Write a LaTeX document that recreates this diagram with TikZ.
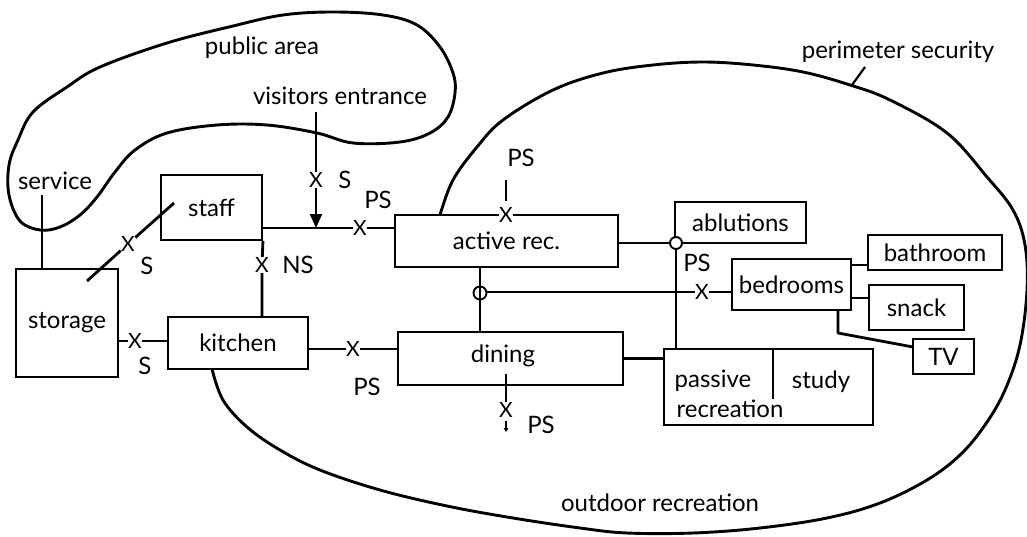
\documentclass[tikz,border=0pt]{standalone}
\usepackage{fontspec}
\setmainfont{Lato}
\usetikzlibrary{arrows.meta}
\begin{document}
\begin{tikzpicture}[x=1pt,y=-1pt,
  room/.style={draw, line width=1.9pt, inner sep=0pt, font=\fontsize{24}{28}\selectfont},
  lbl/.style={inner sep=0pt, font=\fontsize{24}{28}\selectfont},
  xm/.style={inner sep=0.3pt, fill=white, font=\fontsize{21}{21}\selectfont},
  conn/.style={line width=2.8pt},
  blob/.style={line width=2.9pt, line join=round}]
\useasboundingbox (0,0) rectangle (1027,536);

% zone outlines
\draw[blob] plot[smooth cycle, tension=0.6] coordinates {
 (40,230) (20,221) (9,195) (9,165) (18,140) (33,112) (67,87) (100,67)
 (167,43) (233,26) (283,15) (333,12) (383,15) (417,25) (440,47) (453,73)
 (455,93) (448,117) (430,133) (400,142) (353,143) (317,133) (267,125)
 (217,125) (167,133) (135,150) (115,172) (97,197) (80,215) (60,227)};

\draw[blob] plot[smooth, tension=0.6] coordinates {
 (440,215) (453,180) (477,147) (503,120) (553,90) (603,73) (653,65)
 (703,62) (753,65) (803,72) (850,85) (890,100) (947,133) (987,177)
 (1013,210) (1025,245) (1027,290) (1020,345) (1005,390) (985,425)
 (960,455) (927,480) (880,503) (827,518) (760,528) (693,533) (627,533)
 (580,528) (513,518) (447,506) (380,490) (320,470) (280,450) (247,427)
 (223,400) (212,369)};

% rooms
\node[room, minimum width=101pt, minimum height=65pt] (staff) at (211.5,207.5) {staff};
\node[room, minimum width=102pt, minimum height=108pt] (storage) at (67,323) {storage};
\node[room, minimum width=140pt, minimum height=52pt] (kitchen) at (238,343) {kitchen};
\node[room, minimum width=223pt, minimum height=52pt] (act) at (506.5,241) {active rec.};
\node[room, minimum width=225pt, minimum height=53pt] (dining) at (510.5,358.5) {};
\node[room, minimum width=209pt, minimum height=76pt] (pass) at (768.5,387) {};
\node[room, minimum width=131pt, minimum height=41pt] (abl) at (740.5,222.5) {ablutions};
\node[room, minimum width=119pt, minimum height=51pt] (bed) at (791.5,284.5) {bedrooms};
\node[room, minimum width=134pt, minimum height=35pt] (bath) at (935,252.5) {bathroom};
\node[room, minimum width=95pt, minimum height=45pt] (snack) at (916.5,307.5) {snack};
\node[room, minimum width=61pt, minimum height=35pt] (tv) at (943.5,356.5) {TV};

\node[lbl] (dintext) at (503,356) {dining};
\node[lbl] (passive) at (713,381) {passive};
\node[lbl] (recr) at (730,409) {recreation};
\node[lbl] (study) at (821,382) {study};
\coordinate (dv1) at (773,349);
\coordinate (dv2) at (773,399);
\draw[line width=1.6pt] (dv1) -- (dv2);

% labels
\node[lbl] (public) at (262,48) {public area};
\node[lbl] (visit) at (340,96) {visitors entrance};
\node[lbl] (perim) at (898,52) {perimeter security};
\node[lbl] (service) at (55,181) {service};
\node[lbl] (outdoor) at (660,503) {outdoor recreation};

% staff - active rec, with visitors entrance
\node[xm] (x1) at (360,228) {X};
\node[lbl] (l1) at (378,200) {PS};
\draw[conn] (staff.east |- x1) -- (x1) -- (act.west |- x1);
\coordinate (ve) at (316,112);
\coordinate (j1) at (316,228);
\node[xm] (x2) at (316,180) {X};
\node[lbl] (l2) at (345,180) {S};
\draw[line width=2pt] (ve) -- (x2);
\draw[line width=2pt, -{Triangle[length=14pt,width=12pt]}] (x2) -- (j1);

% staff - kitchen
\node[xm] (x3) at (262,265) {X};
\node[lbl] (l3) at (298,265) {NS};
\draw[conn] (staff.south east) -- (x3) -- (x3 |- kitchen.north);

% storage - staff diagonal
\coordinate (d1) at (87,281);
\coordinate (d2) at (174,203);
\node[xm] (x4) at (128,244) {X};
\node[lbl] (l4) at (147,266) {S};
\draw[conn] (d1) -- (x4) -- (d2);

% service
\coordinate (sv) at (42,195);
\draw[conn] (sv) -- (sv |- storage.north);

% storage - kitchen
\node[xm] (x5) at (135,341) {X};
\node[lbl] (l5) at (145,366) {S};
\draw[conn] (storage.east |- x5) -- (x5) -- (kitchen.west |- x5);

% kitchen - dining
\node[xm] (x6) at (353,349) {X};
\node[lbl] (l6) at (367,387) {PS};
\draw[conn] (kitchen.east |- x6) -- (x6) -- (dining.west |- x6);

% active rec top
\node[xm] (x7) at (506,215) {X};
\node[lbl] (l7) at (521,158) {PS};
\coordinate (t1) at (506,180);
\coordinate (t2) at (506,201);
\draw[conn] (t1) -- (t2);

% active rec - circle - passive
\node[circle, draw, fill=white, line width=1.9pt, minimum size=12pt, inner sep=0pt] (c1) at (676,243) {};
\draw[conn] (act.east |- c1) -- (c1);
\draw[conn] (c1) -- (c1 |- pass.north);

% active rec - dining with circle, to bedrooms
\coordinate (c2) at (480,293);
\draw[conn] (act.south -| c2) -- (dining.north -| c2);
\draw[line width=1.9pt] (c2) circle[radius=6.5pt];
\node[xm] (x8) at (702,292) {X};
\node[lbl] (l8) at (697,263) {PS};
\coordinate (c2e) at (486.5,292);
\draw[conn] (c2e) -- (x8) -- (bed.west |- x8);

% dining - passive
\draw[conn] (dining.east) -- (dining.east -| pass.west);

% dining bottom
\coordinate (db1) at (506,374);
\node[xm] (x9) at (506,410) {X};
\node[lbl] (l9) at (541,425) {PS};
\draw[conn] (db1) -- (x9);
\coordinate (a1) at (506,421);
\coordinate (a2) at (506,432);
\draw[line width=1.8pt, -{Triangle[length=4pt,width=4.5pt]}] (a1) -- (a2);

% bedrooms cluster
\coordinate (b1) at (851,265);
\coordinate (b2) at (851,298);
\draw[conn] (b1) -- (bath.west |- b1);
\draw[conn] (b2) -- (snack.west |- b2);
\coordinate (tv1) at (838,310);
\coordinate (tv2) at (838,333);
\coordinate (tv3) at (913,347);
\draw[conn, line join=round] (tv1) -- (tv2) -- (tv3);

% perimeter leader
\coordinate (p1) at (852,85);
\coordinate (p2) at (865,67);
\draw[line width=2.2pt] (p1) -- (p2);
\end{tikzpicture}
\end{document}
